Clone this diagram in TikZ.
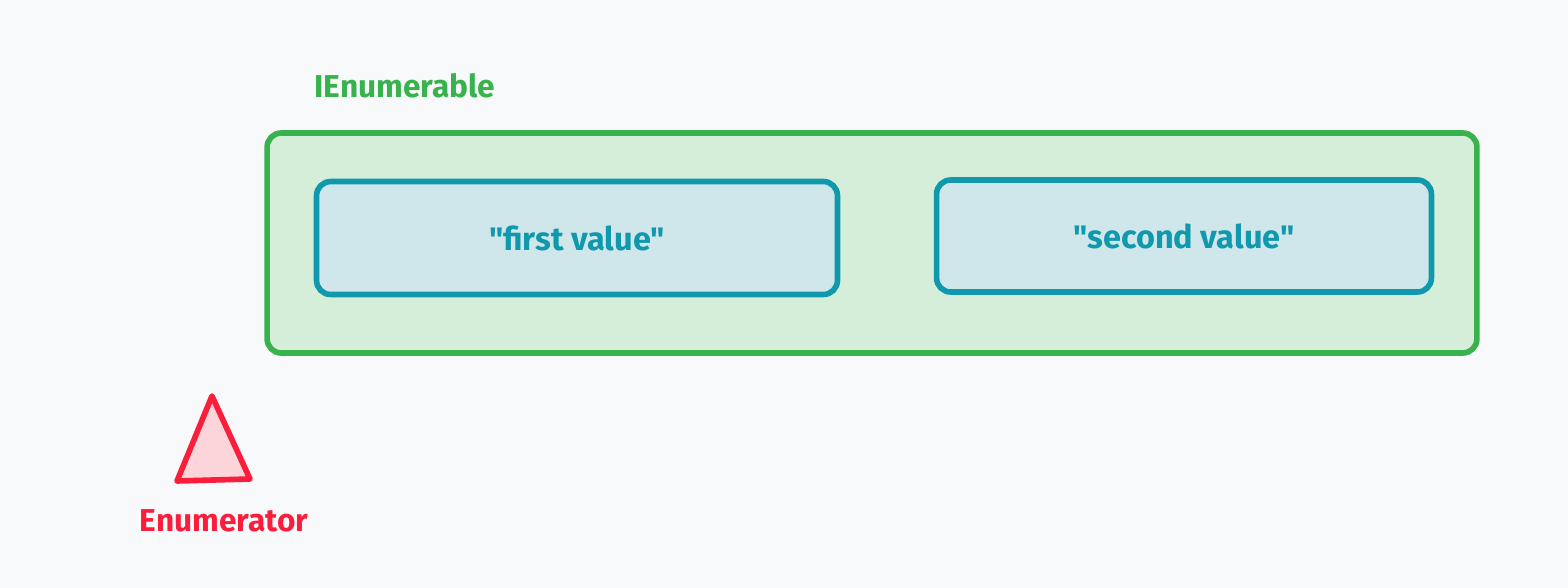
\documentclass[tikz,border=0pt]{standalone}
\usepackage{fontspec}
\setmainfont{Fira Sans}[Ligatures=TeXOff]
\definecolor{bgcol}{HTML}{F8F9FA}
\definecolor{grn}{HTML}{37B24D}
\definecolor{grnfill}{HTML}{D5EEDA}
\definecolor{teal}{HTML}{1098AD}
\definecolor{tealfill}{HTML}{CFE7EB}
\definecolor{rd}{HTML}{FA1E3C}
\definecolor{rdfill}{HTML}{FCD5DA}
\tikzset{
  label/.style={font=\fontsize{18}{20}\selectfont\bfseries},
  outerbox/.style={draw=grn,fill=grnfill,line width=3.2pt,rounded corners=8pt},
  valuebox/.style={draw=teal,fill=tealfill,line width=3.2pt,rounded corners=8pt,
    text=teal,font=\fontsize{18.5}{20}\selectfont\bfseries}
}
\begin{document}
\begin{tikzpicture}[x=0.02cm,y=-0.02cm]
\fill[bgcol] (0,0) rectangle (1568,588);
\useasboundingbox (0,0) rectangle (1568,588);

\node[label,text=grn] (enumlabel) at (405,86) {IEnumerable};
\node[outerbox,minimum width=24.2cm,minimum height=4.4cm] (enumerable) at (872,243) {};

\node[valuebox,minimum width=10.42cm,minimum height=2.26cm] (first) at (577,238) {"first value"};
\node[valuebox,minimum width=9.9cm,minimum height=2.24cm] (second) at (1184,236) {"second value"};

\coordinate (apex) at (212,396);
\coordinate (baseleft) at (177,481);
\coordinate (baseright) at (250,479);
\draw[rd,fill=rdfill,line width=3.2pt,line join=round] (apex) -- (baseright) -- (baseleft) -- cycle;
\node[label,text=rd] (enumerator) at (224,521) {Enumerator};
\end{tikzpicture}
\end{document}
